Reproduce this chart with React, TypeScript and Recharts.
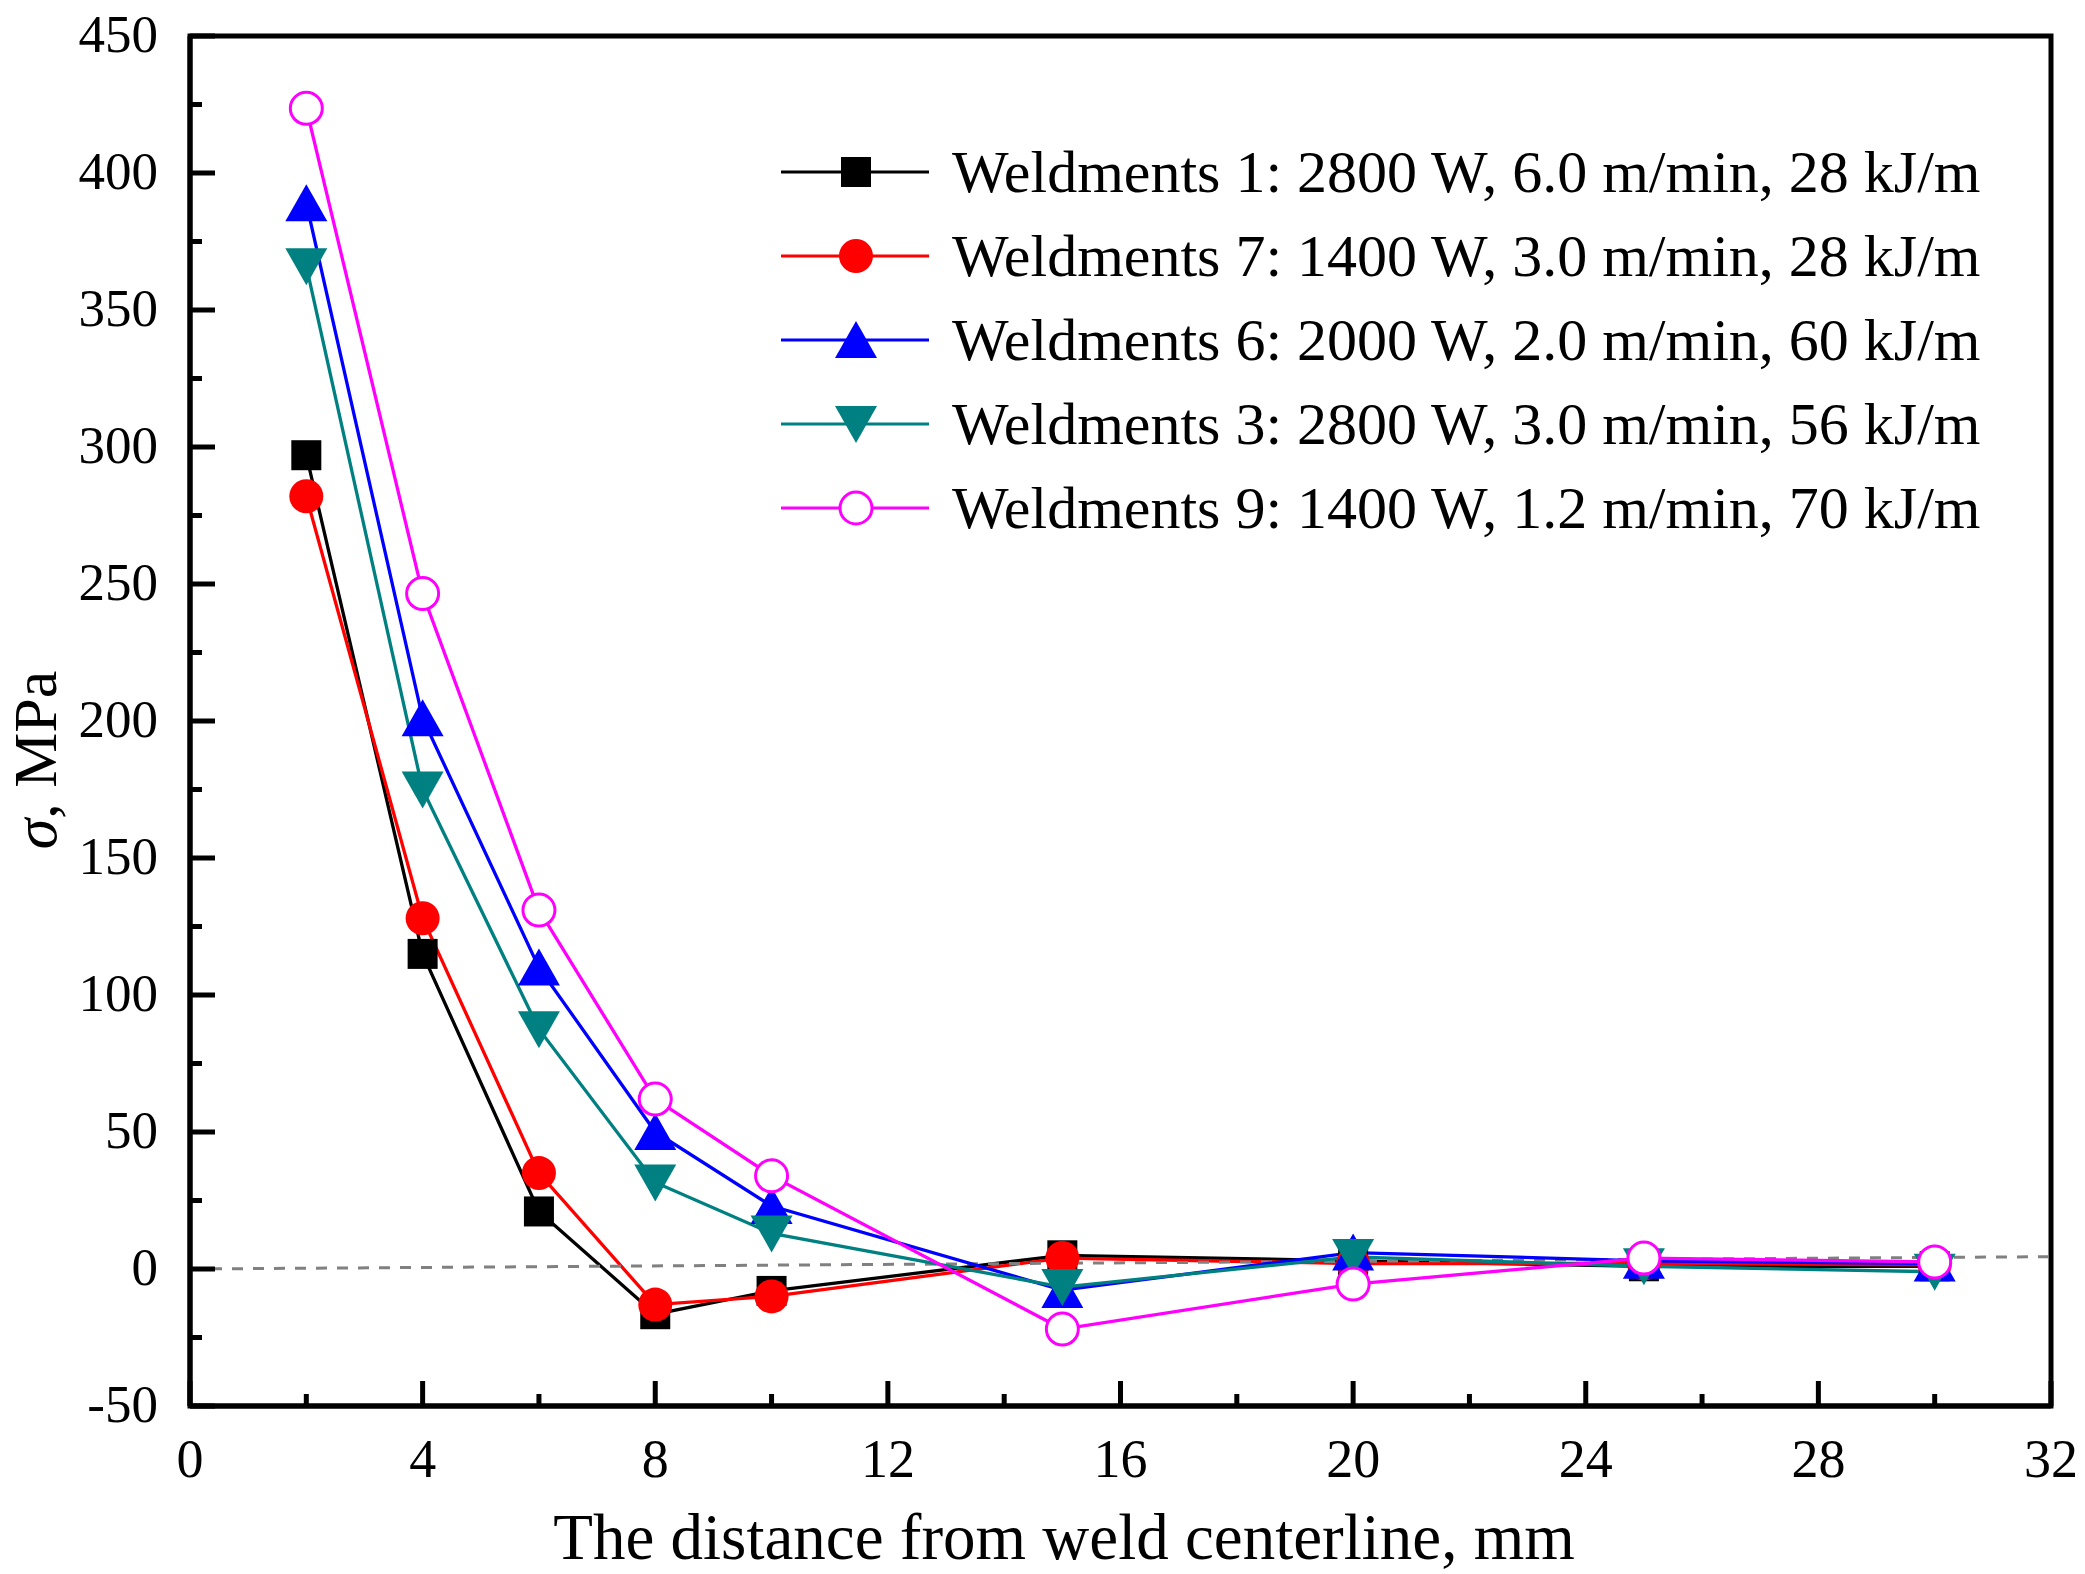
import { LineChart, Line, XAxis, YAxis, Legend, ReferenceArea } from "recharts";

const distances = [2, 4, 6, 8, 10, 15, 20, 25, 30];
const weld1 = [297, 115, 21, -16.5, -8, 5, 3, 1, 1];
const weld7 = [282, 128, 35, -13, -10, 4, 2, 2, 1.5];
const weld6 = [389, 201, 110, 50, 23, -7.7, 6, 3, 2];
const weld3 = [366, 175, 87.5, 31.6, 13, -6.6, 4.4, 1, -1];
const weld9 = [423.6, 246.5, 131, 62, 34, -21.9, -5.5, 4, 2.6];

// grey dashed reference line end points
const refX = [0, 32];
const refY = [0, 4.5];

const xTicks = [0, 2, 4, 6, 8, 10, 12, 14, 16, 18, 20, 22, 24, 26, 28, 30, 32];
const yTicks = [-50, -25, 0, 25, 50, 75, 100, 125, 150, 175, 200, 225, 250, 275, 300, 325, 350, 375, 400, 425, 450];

const names = [
  "Weldments 1: 2800 W, 6.0 m/min, 28 kJ/m",
  "Weldments 7: 1400 W, 3.0 m/min, 28 kJ/m",
  "Weldments 6: 2000 W, 2.0 m/min, 60 kJ/m",
  "Weldments 3: 2800 W, 3.0 m/min, 56 kJ/m",
  "Weldments 9: 1400 W, 1.2 m/min, 70 kJ/m",
];

const FONT = "'Liberation Serif', 'Times New Roman', serif";

const data = distances.map((d, i) => ({
  d,
  w1: weld1[i],
  w7: weld7[i],
  w6: weld6[i],
  w3: weld3[i],
  w9: weld9[i],
}));

const refData = refX.map((x, i) => ({ d: x, ref: refY[i] }));

type Shape = "square" | "circle" | "up" | "down" | "open";

const series: { key: string; name: string; color: string; shape: Shape }[] = [
  { key: "w1", name: names[0], color: "#000000", shape: "square" },
  { key: "w7", name: names[1], color: "#ff0000", shape: "circle" },
  { key: "w6", name: names[2], color: "#0000ff", shape: "up" },
  { key: "w3", name: names[3], color: "#008080", shape: "down" },
  { key: "w9", name: names[4], color: "#ff00ff", shape: "open" },
];

function Marker({ shape, cx, cy, color }: { shape: Shape; cx: number; cy: number; color: string }) {
  if (shape === "square") return <rect x={cx - 15} y={cy - 15} width={30} height={30} fill={color} />;
  if (shape === "circle") return <circle cx={cx} cy={cy} r={17} fill={color} />;
  if (shape === "up")
    return <polygon points={`${cx},${cy - 19} ${cx + 21},${cy + 18} ${cx - 21},${cy + 18}`} fill={color} />;
  if (shape === "down")
    return <polygon points={`${cx},${cy + 19} ${cx + 21},${cy - 18} ${cx - 21},${cy - 18}`} fill={color} />;
  return <circle cx={cx} cy={cy} r={16} fill="#fff" stroke={color} strokeWidth={3} />;
}

const makeDot = (shape: Shape, color: string) => (props: any) => {
  const { cx, cy, index } = props;
  if (cx == null || cy == null) return <g key={`e-${index}`} />;
  return (
    <g key={`${shape}-${index}`}>
      <Marker shape={shape} cx={cx} cy={cy} color={color} />
    </g>
  );
};

const XTick = (props: any) => {
  const { x, y, payload } = props;
  const v = payload.value;
  const major = v % 4 === 0;
  return (
    <g>
      <line x1={x} x2={x} y1={y} y2={y - (major ? 25 : 12)} stroke="#000" strokeWidth={5} />
      {major && (
        <text x={x} y={y + 71} textAnchor="middle" fontSize={54} fontFamily={FONT} fill="#000">
          {v}
        </text>
      )}
    </g>
  );
};

const YTick = (props: any) => {
  const { x, y, payload } = props;
  const v = payload.value;
  const major = v % 50 === 0;
  return (
    <g>
      <line x1={x} x2={x + (major ? 25 : 12)} y1={y} y2={y} stroke="#000" strokeWidth={5} />
      {major && (
        <text x={x - 32} y={y + 16} textAnchor="end" fontSize={53} fontFamily={FONT} fill="#000">
          {v}
        </text>
      )}
    </g>
  );
};

const XTitle = () => (
  <text x={1064} y={1559} textAnchor="middle" fontSize={65} fontFamily={FONT} fill="#000">
    The distance from weld centerline, mm
  </text>
);

const YTitle = () => (
  <text x={56} y={760} transform="rotate(-90 56 760)" textAnchor="middle" fontSize={62} fontFamily={FONT} fill="#000">
    <tspan fontStyle="italic">σ</tspan>, MPa
  </text>
);

const LegendBox = () => (
  <div style={{ fontFamily: FONT, fontSize: 60, color: "#000" }}>
    {series.map((s) => (
      <div key={s.key} style={{ display: "flex", alignItems: "center", height: 84 }}>
        <svg width={171} height={84} style={{ flex: "none" }}>
          <line x1={0} x2={148} y1={42} y2={42} stroke={s.color} strokeWidth={3} />
          <Marker shape={s.shape} cx={75} cy={42} color={s.color} />
        </svg>
        <span style={{ whiteSpace: "nowrap", lineHeight: 1 }}>{s.name}</span>
      </div>
    ))}
  </div>
);

export default function App() {
  return (
    <div style={{ position: "absolute", left: 0, top: 0, width: 2085, height: 1574, background: "#fff" }}>
      <LineChart width={2085} height={1574} data={data} margin={{ top: 36, right: 34, bottom: 0, left: 70 }}>
        <ReferenceArea
          x1={0}
          x2={32}
          y1={-50}
          y2={450}
          fill="none"
          stroke="#000"
          strokeWidth={5}
          ifOverflow="visible"
        />
        <XAxis
          type="number"
          dataKey="d"
          domain={[0, 32]}
          ticks={xTicks}
          interval={0}
          allowDataOverflow
          height={168}
          tickSize={0}
          tickMargin={0}
          tickLine={false}
          axisLine={{ stroke: "#000", strokeWidth: 5 }}
          tick={<XTick />}
          label={<XTitle />}
        />
        <YAxis
          type="number"
          domain={[-50, 450]}
          ticks={yTicks}
          interval={0}
          allowDataOverflow
          width={120}
          tickSize={0}
          tickMargin={0}
          tickLine={false}
          axisLine={{ stroke: "#000", strokeWidth: 5 }}
          tick={<YTick />}
          label={<YTitle />}
        />
        <Legend
          layout="vertical"
          align="center"
          verticalAlign="middle"
          wrapperStyle={{ left: 781, top: 130, width: 1260 }}
          content={() => <LegendBox />}
        />
        {series.slice(0, 2).map((s) => (
          <Line
            key={s.key}
            dataKey={s.key}
            name={s.name}
            type="linear"
            stroke={s.color}
            strokeWidth={3.3}
            dot={makeDot(s.shape, s.color)}
            activeDot={false}
            isAnimationActive={false}
          />
        ))}
        <Line
          data={refData}
          dataKey="ref"
          type="linear"
          stroke="#808080"
          strokeWidth={3}
          strokeDasharray="11 10"
          dot={false}
          activeDot={false}
          legendType="none"
          isAnimationActive={false}
        />
        {series.slice(2).map((s) => (
          <Line
            key={s.key}
            dataKey={s.key}
            name={s.name}
            type="linear"
            stroke={s.color}
            strokeWidth={3.3}
            dot={makeDot(s.shape, s.color)}
            activeDot={false}
            isAnimationActive={false}
          />
        ))}
      </LineChart>
    </div>
  );
}
